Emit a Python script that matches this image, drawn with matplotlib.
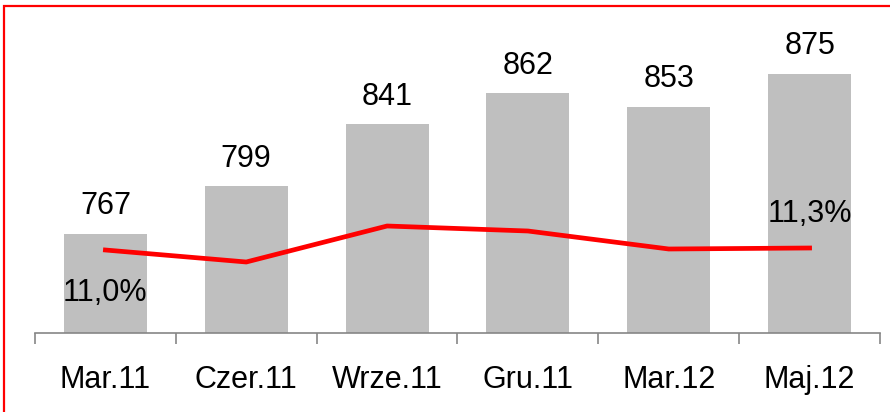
import numpy as np
import matplotlib.pyplot as plt
from matplotlib.patches import Rectangle

plt.rcParams['font.family'] = ['Liberation Sans', 'DejaVu Sans']

# ===== dane =====
kategorie = ["Mar.11", "Czer.11", "Wrze.11", "Gru.11", "Mar.12", "Maj.12"]
wartosci = [767, 799, 841, 862, 853, 875]
udzial = [11.0, 9.2, 14.6, 13.85, 11.15, 11.3]
etykiety_udzial = ["11,0%", "", "", "", "", "11,3%"]

W, H = 890, 412
fig = plt.figure(figsize=(W / 100, H / 100), dpi=100)
ax = fig.add_axes([35 / W, 79 / H, 845 / W, 296 / H])

x = np.arange(len(kategorie))
ax.bar(x, wartosci, width=0.59, color="#BFBFBF", zorder=2)
ax.set_ylim(700, 900)
ax.set_xlim(-0.5, len(kategorie) - 0.5)

for xi, v in zip(x, wartosci):
    ax.annotate(str(v), (xi, v), xytext=(0, 9), textcoords="offset points",
                ha="center", va="bottom", fontsize=22)

# os X
for s in ["top", "right", "left"]:
    ax.spines[s].set_visible(False)
ax.spines["bottom"].set_color("#868686")
ax.spines["bottom"].set_linewidth(1.2)
ax.set_yticks([])
ax.set_xticks(x)
ax.set_xticklabels(kategorie, fontsize=22)
ax.tick_params(axis="x", which="major", length=0, pad=23)
ax.set_xticks(np.arange(-0.5, len(kategorie)), minor=True)
ax.tick_params(axis="x", which="minor", length=8, width=1.2, color="#868686")

# linia - os pomocnicza
ax2 = ax.twinx()
ax2.plot(x, udzial, color="#FF0000", linewidth=3.4, zorder=3)
ax2.set_ylim(-1.45, 42.95)
ax2.axis("off")
for xi, v, t in zip(x, udzial, etykiety_udzial):
    if not t:
        continue
    off = -20 if xi == 0 else 14
    ax2.annotate(t, (xi, v), xytext=(0, off), textcoords="offset points",
                 ha="center", va="top" if off < 0 else "bottom", fontsize=22)

# ramka
fig.patches.append(Rectangle((4 / W, -0.1), 1.2, 1.1 - 6 / H,
                             transform=fig.transFigure, fill=False,
                             edgecolor="#FF0000", linewidth=1.6, clip_on=False))

fig.savefig("out.png", dpi=100)
